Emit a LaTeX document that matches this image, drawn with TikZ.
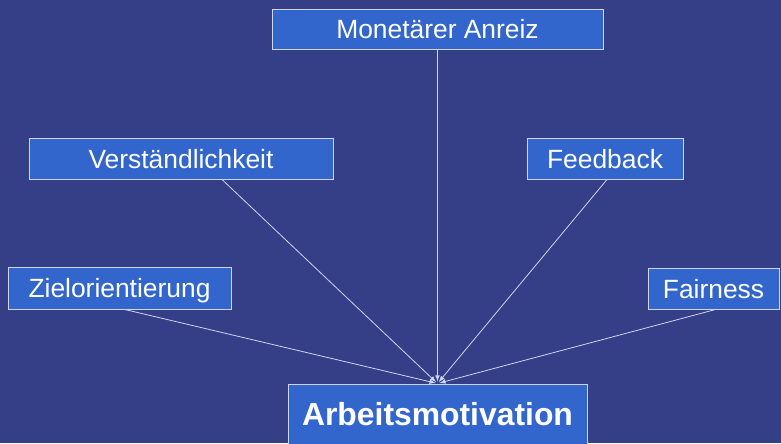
\documentclass[tikz,border=0pt]{standalone}
\usepackage{fontspec}
\setmainfont{Liberation Sans}
\usepackage{tikz}
\usetikzlibrary{arrows,positioning}

\definecolor{slidebg}{RGB}{53,63,136}
\definecolor{boxfill}{RGB}{51,102,204}
\definecolor{boxline}{RGB}{205,214,238}

\begin{document}
\begin{tikzpicture}
[x=0.75pt, y=-0.75pt,
box/.style={rectangle, draw=boxline, fill=boxfill, line width=0.75pt,
inner sep=0pt, text=white, text height=14.3pt, text depth=0pt,
font=\fontsize{19.8}{24}\selectfont, minimum width=#1},
mainbox/.style={box=224.25pt, minimum height=45.75pt, text height=17.2pt,
font=\fontsize{23.9}{28}\selectfont\bfseries}]
\clip (0,0) rectangle (781,443);
\fill[slidebg] (0,0) rectangle (781,443);
\node[box=248.25pt, minimum height=30pt] (monetaer) at (437.5,29) {Monetärer Anreiz};
\node[box=228pt, minimum height=30.75pt] (verstaendlich) at (181,158.5) {Verständlichkeit};
\node[box=117pt, minimum height=30.75pt] (feedback) at (605,158.5) {Feedback};
\node[box=167.25pt, minimum height=31.5pt] (ziel) at (119.5,288) {Zielorientierung};
\node[box=98.25pt, minimum height=30.75pt] (fairness) at (713.5,288.5) {Fairness};
\node[mainbox] (motivation) at (437.5,414.5) {Arbeitsmotivation};

\begin{scope}[every edge/.style={draw=boxline, line width=0.6pt, shorten >=1.5pt}]
\path[-latex] (monetaer) edge (motivation.north);
\path[-latex] ([xshift=30.75pt]verstaendlich.south) edge (motivation.north);
\path[-latex] ([xshift=1.5pt]feedback.south) edge (motivation.north);
\path[-latex] ([xshift=4pt]ziel.south) edge (motivation.north);
\path[-latex] ([xshift=1.5pt]fairness.south) edge (motivation.north);
\end{scope}
\end{tikzpicture}
\end{document}
